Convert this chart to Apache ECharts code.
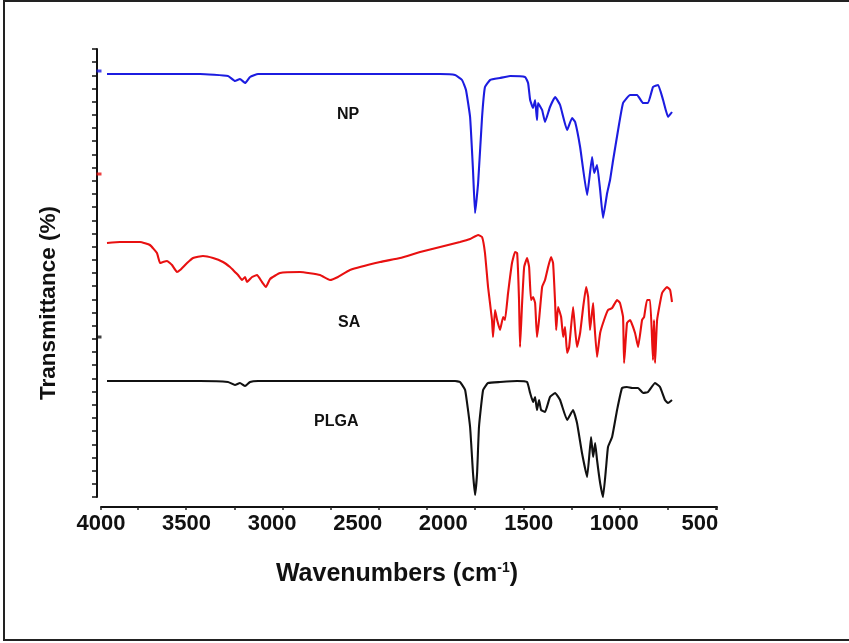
<!DOCTYPE html>
<html>
<head>
<meta charset="utf-8">
<script src="https://cdn.jsdelivr.net/npm/echarts@6/dist/echarts.min.js"></script>
<style>html,body{margin:0;padding:0;background:#fff;}#chart{width:849px;height:643px;}</style>
</head>
<body>
<div id="chart"></div>
<script>
// Wavenumber (cm^-1) and transmittance (arbitrary, offset-stacked)
const npData = [
[3965,423],[3714,423],[3421,423],[3258,421],[3217,416],[3188,418],[3158,414],[3129,420],[3082,423],
[2837,423],[2545,423],[2252,423],[2018,423],[1931,422],[1890,417],[1867,407],[1843,380],[1826,327],
[1814,284],[1796,314],[1773,380],[1756,410],[1726,417],[1668,419],[1609,421],[1522,420],[1504,414],
[1492,397],[1475,389],[1463,397],[1452,377],[1446,394],[1422,387],[1405,375],[1376,390],[1346,400],
[1317,392],[1276,367],[1247,379],[1229,375],[1200,350],[1159,302],[1130,340],[1118,324],[1101,332],
[1083,307],[1066,279],[1042,304],[1025,317],[1007,337],[978,367],[949,394],[908,402],[867,402],
[832,394],[803,394],[774,410],[744,412],[715,397],[686,380],[663,385]
];
const saData = [
[3965,254],[3889,255],[3772,255],[3714,252],[3673,244],[3655,234],[3638,235],[3614,236],[3585,232],
[3556,225],[3538,227],[3497,234],[3462,239],[3404,241],[3345,239],[3287,235],[3246,230],[3228,227],
[3199,222],[3176,217],[3158,220],[3147,215],[3117,220],[3088,222],[3059,215],[3036,210],[3012,218],
[2954,224],[2837,225],[2720,222],[2662,217],[2615,220],[2545,227],[2369,235],[2252,239],[2135,245],
[2018,250],[1902,255],[1843,258],[1796,262],[1773,260],[1756,244],[1738,210],[1715,177],[1709,160],
[1697,187],[1685,177],[1668,167],[1650,180],[1639,177],[1621,204],[1598,234],[1580,245],[1568,244],
[1557,197],[1551,150],[1539,194],[1527,230],[1510,239],[1498,230],[1487,197],[1475,200],[1463,194],
[1452,160],[1440,177],[1422,210],[1405,217],[1387,230],[1370,240],[1358,234],[1346,194],[1340,167],
[1329,190],[1311,180],[1299,160],[1288,170],[1276,144],[1264,150],[1241,190],[1229,167],[1218,150],
[1200,164],[1182,190],[1165,210],[1153,200],[1142,167],[1124,194],[1118,177],[1101,140],[1083,164],
[1060,177],[1037,187],[1013,189],[984,197],[967,194],[949,180],[943,134],[926,174],[908,177],
[879,164],[861,150],[838,177],[826,180],[809,197],[791,197],[774,137],[768,177],[762,134],[750,177],
[721,204],[692,210],[674,207],[663,195]
];
const plgaData = [
[3965,116],[3714,116],[3421,116],[3258,115],[3217,112],[3188,114],[3158,111],[3129,115],[3082,116],
[2837,116],[2545,116],[2252,116],[2018,116],[1931,116],[1902,115],[1872,107],[1843,70],[1826,24],
[1814,2],[1802,24],[1791,70],[1767,107],[1738,114],[1668,115],[1568,116],[1510,115],[1492,104],
[1475,95],[1463,100],[1452,87],[1440,97],[1428,87],[1405,85],[1376,100],[1346,104],[1317,97],
[1276,77],[1241,87],[1218,74],[1189,44],[1159,20],[1136,60],[1124,40],[1112,54],[1101,37],[1083,14],
[1066,0],[1048,30],[1037,50],[1013,60],[984,87],[955,109],[926,110],[896,109],[861,109],[832,104],
[803,105],[762,114],[733,110],[704,97],[686,94],[663,97]
];
const seriesNames = ['NP', 'SA', 'PLGA'];
const seriesColors = ['#1c1ce0', '#e81010', '#111111'];
const offsetMarks = [[4000,426],[4000,323],[4000,160]];
const xTickLabels = [4000, 3500, 3000, 2500, 2000, 1500, 1000, 500];

const chart = echarts.init(document.getElementById('chart'));
const font = '"Liberation Sans", Arial, sans-serif';
const lineSeries = (i, data) => ({
  name: seriesNames[i], type: 'line', data: data, showSymbol: false, symbol: 'none', smooth: 0.12,
  lineStyle: { color: seriesColors[i], width: 2.1 }, itemStyle: { color: seriesColors[i] }
});
chart.setOption({
  backgroundColor: '#ffffff',
  animation: false,
  grid: { left: 101, right: 132, top: 49, bottom: 146 },
  xAxis: [{
    type: 'value', inverse: true, min: 400, max: 4000, interval: 100,
    offset: 10,
    name: 'Wavenumbers (cm{sup|-1})', nameLocation: 'middle', nameGap: 54,
    nameTextStyle: { fontFamily: font, fontWeight: 'bold', fontSize: 25, color: '#111', padding: [0, 24, 0, 0],
      rich: { sup: { fontFamily: font, fontWeight: 'bold', fontSize: 14, color: '#111', verticalAlign: 'top', padding: [0, 0, 12, 0] } } },
    axisLine: { show: true, onZero: false, lineStyle: { color: '#111', width: 2 } },
    axisTick: { show: false },
    splitLine: { show: false },
    axisLabel: { margin: 6, fontFamily: font, fontWeight: 'bold', fontSize: 22, color: '#111',
      formatter: v => xTickLabels.indexOf(v) >= 0 ? String(v) : '' }
  }, {
    type: 'value', min: -38.5, max: 601, splitNumber: 13, offset: 10, position: 'bottom',
    axisLine: { show: false, onZero: false }, axisLabel: { show: false }, splitLine: { show: false },
    axisTick: { show: true, length: 3, lineStyle: { color: '#222', width: 1.5 } }
  }],
  yAxis: {
    type: 'value', min: 0, max: 448, interval: 448 / 34, offset: 4,
    name: 'Transmittance (%)', nameLocation: 'middle', nameGap: 37,
    nameTextStyle: { fontFamily: font, fontWeight: 'bold', fontSize: 22.5, color: '#111', padding: [0, 60, 0, 0] },
    axisLine: { show: true, onZero: false, lineStyle: { color: '#111', width: 2 } },
    axisTick: { show: true, length: 5, lineStyle: { color: '#111', width: 1.5 } },
    axisLabel: { show: false },
    splitLine: { show: false }
  },
  series: [
    lineSeries(0, npData),
    lineSeries(1, saData),
    lineSeries(2, plgaData),
    { name: 'offsets', type: 'scatter', clip: false, symbol: 'rect', symbolSize: [5, 3], symbolOffset: [-2, 0],
      data: offsetMarks.map((p, i) => ({ value: p, itemStyle: { color: seriesColors[i] } })) }
  ],
  graphic: [
    { type: 'rect', shape: { x: 4, y: 1, width: 860, height: 639 }, style: { fill: 'none', stroke: '#222', lineWidth: 2 }, silent: true },
    { type: 'text', left: 337, top: 107, style: { text: seriesNames[0], font: 'bold 16px "Liberation Sans", Arial, sans-serif', fill: '#111' } },
    { type: 'text', left: 338, top: 315, style: { text: seriesNames[1], font: 'bold 16px "Liberation Sans", Arial, sans-serif', fill: '#111' } },
    { type: 'text', left: 314, top: 414, style: { text: seriesNames[2], font: 'bold 16px "Liberation Sans", Arial, sans-serif', fill: '#111' } }
  ]
});
</script>
</body>
</html>
